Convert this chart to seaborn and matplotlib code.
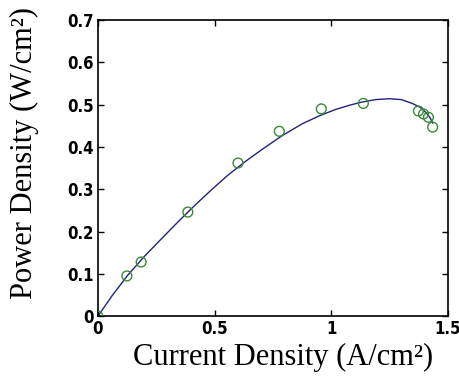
import matplotlib
matplotlib.use('Agg')
import matplotlib.pyplot as plt
import pandas as pd
import seaborn as sns

# measured points
corrente = [0.0, 0.124, 0.185, 0.385, 0.60, 0.777, 0.957, 1.137, 1.373, 1.395, 1.416, 1.434]
potencia = [0.0, 0.095, 0.128, 0.246, 0.362, 0.437, 0.490, 0.503, 0.485, 0.478, 0.470, 0.447]

# fitted curve
curva_x = [0.0, 0.06, 0.128, 0.2, 0.274, 0.345, 0.415, 0.485, 0.556, 0.63, 0.70, 0.79, 0.876,
           0.95, 1.02, 1.08, 1.13, 1.19, 1.248, 1.30, 1.346, 1.38, 1.406, 1.422, 1.435]
curva_y = [0.0, 0.048, 0.097, 0.142, 0.184, 0.224, 0.262, 0.298, 0.333, 0.365, 0.393, 0.427, 0.455,
           0.474, 0.489, 0.499, 0.506, 0.512, 0.514, 0.512, 0.503, 0.494, 0.481, 0.470, 0.456]

xticks = [0, 0.5, 1, 1.5]
xtick_labels = ['0', '0.5', '1', '1.5']
yticks = [0, 0.1, 0.2, 0.3, 0.4, 0.5, 0.6, 0.7]
ytick_labels = ['0', '0.1', '0.2', '0.3', '0.4', '0.5', '0.6', '0.7']

pontos = pd.DataFrame({'x': corrente, 'y': potencia})
curva = pd.DataFrame({'x': curva_x, 'y': curva_y})

sns.set_style('ticks')
plt.rcParams['font.family'] = ['DejaVu Sans']
plt.rcParams['text.color'] = 'black'
plt.rcParams['xtick.color'] = 'black'
plt.rcParams['ytick.color'] = 'black'
plt.rcParams['axes.labelcolor'] = 'black'

fig = plt.figure(figsize=(4.6, 3.86), dpi=100)
ax = fig.add_axes([0.213, 0.181, 0.761, 0.767])

sns.lineplot(data=curva, x='x', y='y', sort=False, color='#22227a', linewidth=1.0, ax=ax)
sns.scatterplot(data=pontos, x='x', y='y', marker='o', s=50, facecolors='none',
                edgecolor='#3a8a3a', linewidth=1.0, ax=ax, zorder=3)

ax.set_xlim(0, 1.5)
ax.set_ylim(0, 0.7)
ax.set_xticks(xticks)
ax.set_xticklabels(xtick_labels)
ax.set_yticks(yticks)
ax.set_yticklabels(ytick_labels)
for spine in ax.spines.values():
    spine.set_visible(True)
    spine.set_linewidth(1.2)
    spine.set_color('black')
ax.tick_params(direction='in', top=True, right=True, length=4, width=1, pad=3, colors='black')
for lab in ax.get_xticklabels() + ax.get_yticklabels():
    lab.set_fontweight('bold')
    lab.set_fontstretch('condensed')
    lab.set_fontsize(12)
    lab.set_color('black')

ax.set_xlabel('Current Density (A/cm²)', family='Liberation Serif', fontsize=22, va='center')
ax.set_ylabel('Power Density (W/cm²)', family='Liberation Serif', fontsize=22, va='center')
ax.xaxis.set_label_coords(0.529, -0.14)
ax.yaxis.set_label_coords(-0.21, 0.55)

fig.savefig('out.png', dpi=100)
